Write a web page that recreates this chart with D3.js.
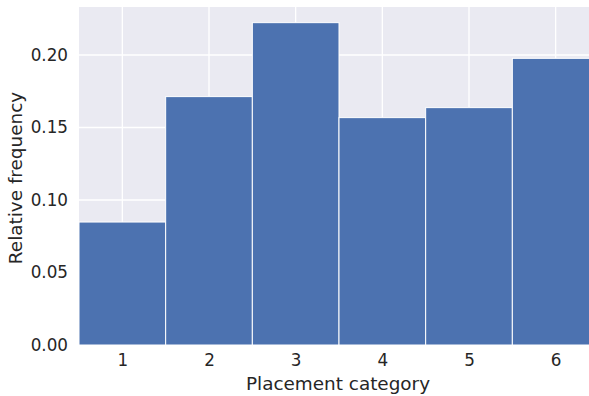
<!DOCTYPE html>
<html>
<head>
<meta charset="utf-8">
<script src="https://cdn.jsdelivr.net/npm/d3@7"></script>
<style>
html,body{margin:0;padding:0;background:#fff;}
svg{display:block;font-family:"DejaVu Sans",sans-serif;}
</style>
</head>
<body>
<svg id="chart" width="589" height="396"></svg>
<script>
const categories = [1, 2, 3, 4, 5, 6];
const frequencies = [0.0848, 0.1713, 0.2223, 0.1568, 0.1637, 0.1977];
const yTicks = [0.00, 0.05, 0.10, 0.15, 0.20];

const svg = d3.select("#chart");
const pLeft = 79, pRight = 599, pTop = 7, pBottom = 345;

const x = d3.scaleLinear().domain([0.5, 6.5]).range([pLeft, pRight]);
const y = d3.scaleLinear().domain([0, 0.2331]).range([pBottom, pTop]);

svg.append("rect").attr("x", pLeft).attr("y", pTop)
  .attr("width", pRight - pLeft).attr("height", pBottom - pTop)
  .attr("fill", "#EAEAF2");

// gridlines
svg.append("g").selectAll("line").data(yTicks).join("line")
  .attr("x1", pLeft).attr("x2", pRight)
  .attr("y1", d => y(d)).attr("y2", d => y(d))
  .attr("stroke", "#fff").attr("stroke-width", 1.3);
svg.append("g").selectAll("line").data(categories).join("line")
  .attr("y1", pTop).attr("y2", pBottom)
  .attr("x1", d => x(d)).attr("x2", d => x(d))
  .attr("stroke", "#fff").attr("stroke-width", 1.3);

// bars
svg.append("g").selectAll("rect").data(categories).join("rect")
  .attr("x", d => x(d - 0.5))
  .attr("width", d => x(d + 0.5) - x(d - 0.5))
  .attr("y", (d, i) => y(frequencies[i]))
  .attr("height", (d, i) => y(0) - y(frequencies[i]))
  .attr("fill", "#4C72B0")
  .attr("stroke", "#fff").attr("stroke-width", 1);

// axes
const fs = 16.8;
const xAxis = svg.append("g").attr("transform", `translate(0,${pBottom})`)
  .call(d3.axisBottom(x).tickValues(categories).tickFormat(d3.format("d")).tickSize(0).tickPadding(9));
xAxis.select(".domain").remove();
xAxis.selectAll("text").attr("font-size", fs).attr("fill", "#262626").attr("font-family", "DejaVu Sans");

const yAxis = svg.append("g").attr("transform", `translate(${pLeft},0)`)
  .call(d3.axisLeft(y).tickValues(yTicks).tickFormat(d3.format(".2f")).tickSize(0).tickPadding(11));
yAxis.select(".domain").remove();
yAxis.selectAll("text").attr("font-size", fs).attr("fill", "#262626").attr("font-family", "DejaVu Sans");

const ls = 18.4;
svg.append("text").attr("x", 338).attr("y", 390)
  .attr("text-anchor", "middle").attr("font-size", ls).attr("fill", "#262626")
  .text("Placement category");

svg.append("text")
  .attr("transform", `translate(22,178) rotate(-90)`)
  .attr("text-anchor", "middle").attr("font-size", ls).attr("fill", "#262626")
  .text("Relative frequency");
</script>
</body>
</html>
